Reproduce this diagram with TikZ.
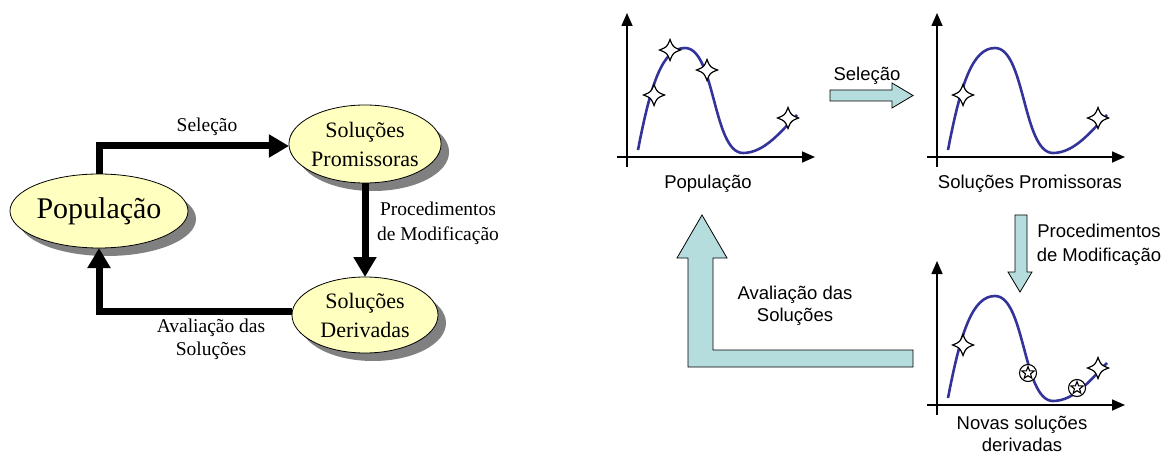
\documentclass[tikz,border=0pt]{standalone}
\usepackage{fontspec}
\setmainfont{Liberation Serif}
\newfontfamily\sansfont{Liberation Sans}
\usetikzlibrary{arrows.meta,shapes.geometric,shadows}

\definecolor{bubble}{RGB}{255,255,192}
\definecolor{curveblue}{RGB}{51,51,153}
\definecolor{blockfill}{RGB}{182,221,221}

\tikzset{
  stage/.style={ellipse, draw=black, line width=0.8pt, fill=bubble,
    inner sep=0pt, outer sep=0pt, align=center,
    drop shadow={shadow xshift=8pt, shadow yshift=-8pt, fill=black!50, opacity=1}},
  flow/.style={line width=7pt, -{Triangle[length=20pt,width=22pt]}},
  serlabel/.style={font=\fontsize{19.5}{25}\selectfont, align=center},
  sanslabel/.style={font=\sansfont\fontsize{18.5}{22.5}\selectfont, align=center},
  axis/.style={line width=1.6pt, -{Triangle[length=13pt,width=11pt]}},
  fitcurve/.style={curveblue, line width=2.6pt},
  block/.style={draw=black, line width=0.8pt, fill=blockfill},
  pics/graph/.style={code={
    \draw[axis] (0,10) -- (0,-144);
    \draw[axis] (-10,0) -- (188,0);
    \draw[fitcurve] (11,-7) .. controls (24,-75) and (36,-109) .. (58,-109)
      .. controls (88,-109) and (86,-4) .. (116,-4)
      .. controls (138,-4) and (155,-27) .. (170,-42);
  }},
  pics/fourstar/.style={code={
    \draw[fill=white, line width=1.2pt] (10.5,0) .. controls (3,3) .. (0,10.5)
      .. controls (-3,3) .. (-10.5,0) .. controls (-3,-3) .. (0,-10.5)
      .. controls (3,-3) .. (10.5,0) -- cycle;
  }},
  pics/circstar/.style={code={
    \draw[fill=white, line width=1.1pt] (0,0) circle[radius=8.5];
    \draw[fill=white, line width=1.1pt] (270:6.4) -- (306:2.7) -- (342:6.4) -- (18:2.7)
      -- (54:6.4) -- (90:2.7) -- (126:6.4) -- (162:2.7) -- (198:6.4) -- (234:2.7) -- cycle;
  }}
}

\begin{document}
\begin{tikzpicture}[x=1pt,y=-1pt]
\useasboundingbox (0,0) rectangle (1166,454);

% ---- cycle diagram (left) ----
\node[stage, minimum width=178pt, minimum height=74pt, font=\fontsize{30}{34}\selectfont]
  (pop) at (99,211) {População};
\node[stage, minimum width=146pt, minimum height=78pt, font=\fontsize{22}{29}\selectfont]
  (prom) at (365,144) {Soluções\\Promissoras};
\node[stage, minimum width=146pt, minimum height=76pt, font=\fontsize{22}{29}\selectfont]
  (der) at (365,315) {Soluções\\Derivadas};

\draw[flow] (pop.north) |- ([yshift=-2pt]prom.west);
\draw[flow] (prom.south) -- (der.north);
\draw[flow] ([yshift=3.5pt]der.west) -| (pop.south);

\node[serlabel] (lsel) at (207,127) {Seleção};
\node[serlabel] (lproc) at (438,223) {Procedimentos\\de Modificação};
\node[serlabel, font=\fontsize{19.5}{23}\selectfont] (laval) at (211,339) {Avaliação das\\Soluções};

% ---- fitness plots (right) ----
\pic at (627,157) {graph};
\pic at (654,95) {fourstar};
\pic at (670,50) {fourstar};
\pic at (707,70) {fourstar};
\pic at (788,118) {fourstar};

\pic at (937,157) {graph};
\pic at (963,95) {fourstar};
\pic at (1098,118) {fourstar};

\pic at (937,405) {graph};
\pic at (963,345) {fourstar};
\pic at (1028,373) {circstar};
\pic at (1077,388) {circstar};
\pic at (1098,368) {fourstar};

% block arrows between the plots
\draw[block] (830,90) -- (892,90) -- (892,83) -- (913,95.5) -- (892,108) -- (892,101) -- (830,101) -- cycle;
\draw[block] (1015,215) -- (1027,215) -- (1027,272) -- (1032,272) -- (1020,292) -- (1008,272) -- (1015,272) -- cycle;
\draw[block] (702,215) -- (727,258) -- (713,258) -- (713,350) -- (913,350) -- (913,367)
  -- (688,367) -- (688,258) -- (677,258) -- cycle;

\node[sanslabel] (rsel) at (867,76) {Seleção};
\node[sanslabel] (rpop) at (708,184) {População};
\node[sanslabel] (rprom) at (1030,184) {Soluções Promissoras};
\node[sanslabel, font=\sansfont\fontsize{18.5}{24}\selectfont] (rproc) at (1099,245) {Procedimentos\\de Modificação};
\node[sanslabel] (raval) at (795,306) {Avaliação das\\Soluções};
\node[sanslabel] (rnew) at (1022,434) {Novas soluções\\derivadas};
\end{tikzpicture}
\end{document}
